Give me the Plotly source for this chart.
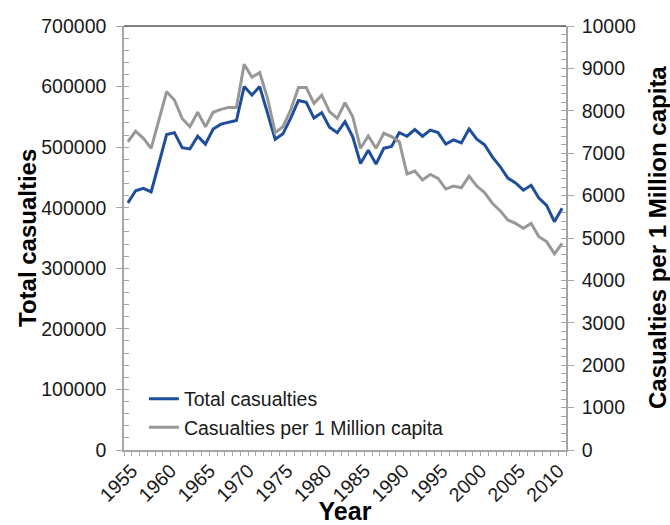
import plotly.graph_objects as go

# Yearly road traffic casualties: absolute count and rate per million inhabitants
years = list(range(1955, 2012))

total_casualties = [
    408000, 428000, 432000, 426000, 473000, 521000, 524000, 499000, 497000, 518000,
    505000, 530000, 538000, 541000, 544000, 600000, 586000, 600000, 555000, 513000,
    522000, 548000, 577000, 574000, 548000, 557000, 533000, 524000, 542000, 517000,
    473000, 495000, 472000, 498000, 501000, 524000, 518000, 529000, 518000, 528000,
    524000, 505000, 512000, 507000, 530000, 513000, 504000, 484000, 468000, 449000,
    441000, 429000, 437000, 416000, 404000, 377000, 399000,
]

per_million = [
    7270, 7520, 7350, 7115, 7780, 8450, 8255, 7820, 7625, 7965,
    7625, 7965, 8035, 8080, 8080, 9100, 8790, 8900, 8300, 7485,
    7625, 8020, 8550, 8550, 8175, 8370, 7980, 7820, 8190, 7860,
    7115, 7405, 7115, 7470, 7390, 7270, 6510, 6580, 6370, 6500,
    6405, 6155, 6225, 6185, 6460, 6225, 6070, 5820, 5645, 5425,
    5345, 5230, 5345, 5030, 4915, 4625, 4875,
]

year_ticks = list(range(1955, 2011, 5))
left_ticks = list(range(0, 700001, 100000))
right_ticks = list(range(0, 10001, 1000))

FONT = "Arial, Liberation Sans, sans-serif"
AXIS_GREY = "#a6a6a6"
BLUE = "#1f4e9b"
GREY = "#989898"
TITLE_FONT = dict(family=FONT, size=24, weight="bold", color="black")

fig = go.Figure()
fig.add_trace(go.Scatter(
    x=years, y=total_casualties, name="Total casualties",
    mode="lines", line=dict(color=BLUE, width=3), yaxis="y",
))
fig.add_trace(go.Scatter(
    x=years, y=per_million, name="Casualties per 1 Million capita",
    mode="lines", line=dict(color=GREY, width=3), yaxis="y2",
))

x_range = [years[0] - 0.5, years[-1] + 0.5]

fig.update_layout(
    width=670, height=525,
    margin=dict(l=124, r=104, t=26, b=75, autoexpand=False),
    paper_bgcolor="white", plot_bgcolor="white",
    font=dict(family=FONT, size=19.5, color="#1a1a1a"),
    showlegend=True,
    legend=dict(
        x=0.045, y=0.008, xanchor="left", yanchor="bottom",
        bgcolor="rgba(0,0,0,0)", font=dict(size=19.5),
        tracegroupgap=0, itemwidth=30,
    ),
    xaxis=dict(
        range=x_range, tickmode="array", tickvals=year_ticks,
        ticks="", tickangle=-45, ticklabelshift=4,
        showline=True, linecolor=AXIS_GREY, linewidth=1.5,
        showgrid=False, zeroline=False,
        minor=dict(tickmode="linear", tick0=x_range[0], dtick=1,
                   ticks="outside", ticklen=4, tickcolor=AXIS_GREY, tickwidth=1.2),
        title=dict(text="Year", font=dict(size=25, weight="bold", color="black"), standoff=0),
        automargin=False,
    ),
    yaxis=dict(
        range=[0, 700000], tickmode="array", tickvals=left_ticks, tickformat="d",
        ticks="outside", ticklen=6, tickcolor=AXIS_GREY, tickwidth=1.2,
        showline=True, linecolor=AXIS_GREY, linewidth=1.5,
        showgrid=False, zeroline=False, ticklabelstandoff=6,
        minor=dict(tickmode="linear", tick0=0, dtick=20000,
                   ticks="inside", ticklen=5, tickcolor=AXIS_GREY, tickwidth=1.2),
        automargin=False,
    ),
    yaxis2=dict(
        overlaying="y", side="right", anchor="x",
        range=[0, 10000], tickmode="array", tickvals=right_ticks, tickformat="d",
        ticks="outside", ticklen=6, tickcolor=AXIS_GREY, tickwidth=1.2,
        showline=True, linecolor=AXIS_GREY, linewidth=1.5,
        showgrid=False, zeroline=False, ticklabelstandoff=4,
        minor=dict(tickmode="linear", tick0=0, dtick=200,
                   ticks="inside", ticklen=5, tickcolor=AXIS_GREY, tickwidth=1.2),
        automargin=False,
    ),
    annotations=[
        dict(text="Total casualties", xref="paper", yref="paper", x=-0.2195, y=0.5,
             xanchor="center", yanchor="middle", textangle=-90, showarrow=False,
             font=TITLE_FONT),
        dict(text="Casualties per 1 Million capita", xref="paper", yref="paper",
             x=1.206, y=0.5, xanchor="center", yanchor="middle", textangle=-90,
             showarrow=False, font=TITLE_FONT),
    ],
    shapes=[dict(type="line", xref="paper", yref="paper", x0=0, x1=1, y0=1, y1=1,
                 line=dict(color="#5a5a5a", width=1.5))],
)

fig.write_html("out.html")
